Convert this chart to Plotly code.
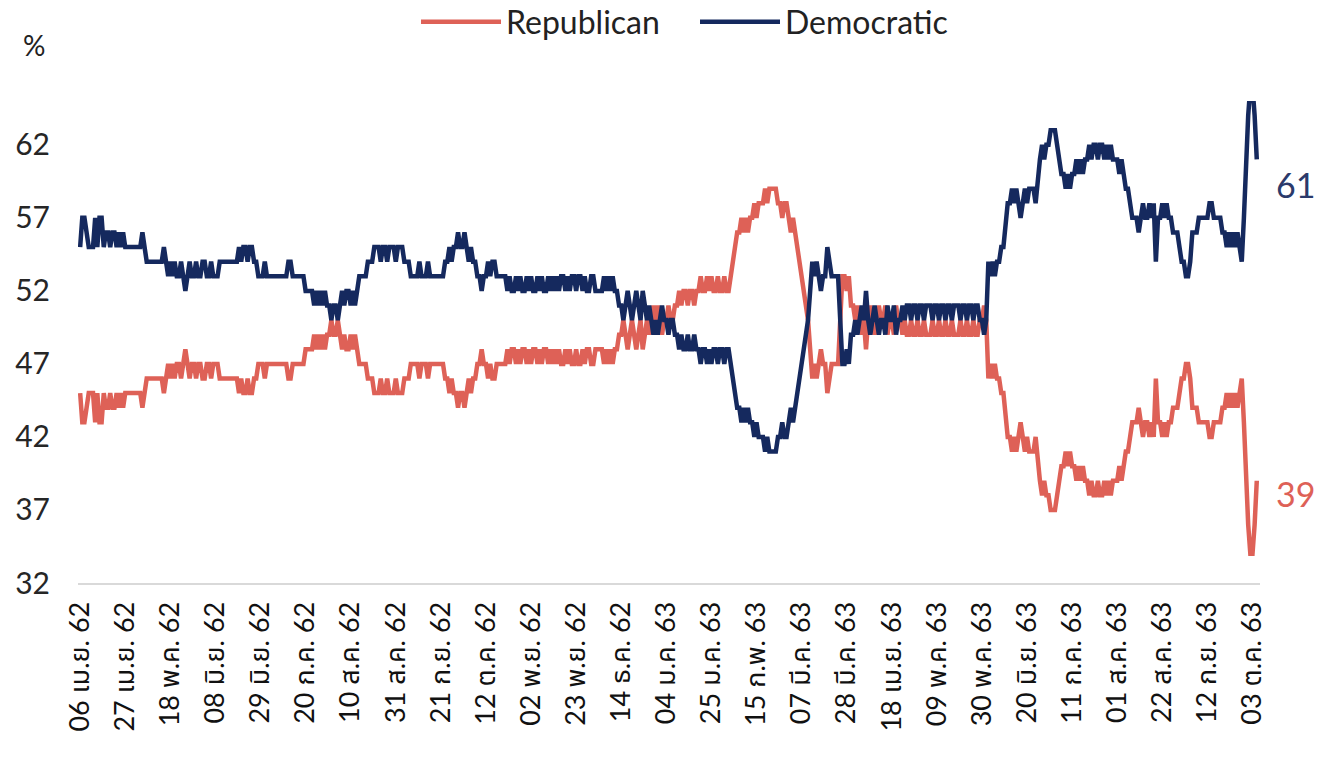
import pandas as pd
import plotly.graph_objects as go

start_date = "2019-04-06"

dem = [
    55,57,57,56,55,55,55,57,55,57,57,55,56,
    56,55,56,56,55,56,55,56,55,
    55,55,55,55,55,55,55,56,55,
    54,54,54,54,54,54,54,54,55,54,53,
    54,53,54,53,53,54,53,52,
    53,54,53,53,54,53,53,54,54,53,53,54,53,53,53,54,
    54,54,54,54,54,54,54,54,55,54,55,55,54,55,55,54,
    54,53,53,53,54,53,53,53,53,53,53,53,53,53,53,54,54,
    53,53,53,53,53,53,52,52,52,52,
    51,52,51,52,51,52,51,51,50,51,51,50,51,52,51,52,52,51,52,51,
    52,53,53,53,53,54,54,54,55,55,55,54,55,55,54,55,55,55,54,55,55,55,54,54,
    54,53,53,53,53,54,53,53,53,54,53,53,53,53,53,53,53,
    54,54,55,54,55,55,56,55,55,56,55,54,55,54,54,
    53,53,52,53,53,54,53,54,54,53,53,53,53,53,52,
    53,52,52,53,52,53,52,52,53,52,53,52,52,53,52,53,52,52,53,52,53,52,
    53,52,53,53,52,53,52,53,53,52,53,53,52,53,52,52,53,53,52,52,52,52,53,52,53,52,53,52,
    52,51,51,50,51,52,51,50,51,52,51,50,52,51,50,51,50,49,50,49,50,51,50,50,49,50,50,49,
    49,48,49,48,48,49,48,48,49,48,48,47,48,48,47,48,47,48,48,47,48,
    48,47,48,48,47,46,45,44,44,43,44,43,44,43,43,42,43,42,42,42,41,42,41,41,41,41,42,42,43,42,42,43,44,43,44,45,46,
    47,48,49,50,52,54,53,54,53,52,53,53,55,54,53,53,53,53,50,47,47,48,47,49,49,50,49,50,51,50,52,
    50,49,50,51,50,49,50,50,49,51,50,50,51,49,50,50,51,50,51,51,50,51,51,50,51,51,50,51,
    51,51,50,51,51,50,51,51,50,51,51,50,51,51,51,50,51,51,50,51,51,50,51,51,50,50,49,50,
    54,53,54,53,54,54,55,55,57,58,58,59,58,59,58,57,58,59,58,59,59,59,58,60,61,62,61,62,62,63,63,63,
    62,61,60,60,59,60,59,60,60,61,60,61,60,61,61,62,61,62,62,61,62,62,61,62,61,62,61,61,61,60,61,60,
    59,59,58,57,57,57,56,57,58,57,57,58,57,58,54,57,57,58,57,58,57,57,56,56,56,55,54,54,53,53,54,
    56,56,56,57,57,57,57,57,58,58,57,57,57,57,56,56,55,56,55,56,55,56,55,54,57,61,64,66,66,64,61,
]

rep = [
    45,43,43,44,45,45,45,43,45,43,43,45,44,
    44,45,44,44,45,44,45,44,45,
    45,45,45,45,45,45,45,44,45,
    46,46,46,46,46,46,46,46,45,46,47,
    46,47,46,47,47,46,47,48,
    47,46,47,47,46,47,47,46,46,47,47,46,47,47,47,46,
    46,46,46,46,46,46,46,46,45,46,45,45,46,45,45,46,
    46,47,47,47,46,47,47,47,47,47,47,47,47,47,47,46,46,
    47,47,47,47,47,47,48,48,48,48,
    49,48,49,48,49,48,49,49,50,49,49,50,49,48,49,48,48,49,48,49,
    48,47,47,47,47,46,46,46,45,45,45,46,45,45,46,45,45,45,46,45,45,45,46,46,
    46,47,47,47,47,46,47,47,47,46,47,47,47,47,47,47,47,
    46,46,45,46,45,45,44,45,45,44,45,46,45,46,46,
    47,47,48,47,47,46,47,46,46,47,47,47,47,47,48,
    47,48,48,47,48,47,48,48,47,48,47,48,48,47,48,47,48,48,47,48,47,48,
    47,48,47,47,48,47,48,47,47,48,47,47,48,47,48,48,47,47,48,48,48,48,47,48,47,48,47,48,
    48,49,49,50,49,48,49,50,49,48,49,50,48,49,50,49,50,51,50,51,50,49,50,50,51,50,50,51,
    51,52,51,52,52,51,52,52,51,52,52,53,52,52,53,52,53,52,52,53,52,
    52,53,52,52,53,54,55,56,56,57,56,57,56,57,57,58,57,58,58,58,59,58,59,59,59,59,58,58,57,58,58,57,56,57,56,55,54,
    53,52,51,50,48,46,47,46,47,48,47,47,45,46,47,47,47,47,50,53,53,52,53,51,51,50,51,50,49,50,48,
    50,51,50,49,50,51,50,50,51,49,50,50,49,51,50,50,49,50,49,49,50,49,49,50,49,49,50,49,
    49,49,50,49,49,50,49,49,50,49,49,50,49,49,49,50,49,49,50,49,49,50,49,49,50,50,51,50,
    46,47,46,47,46,46,45,45,43,42,42,41,42,41,42,43,42,41,42,41,41,41,42,40,39,38,39,38,38,37,37,37,
    38,39,40,40,41,40,41,40,40,39,40,39,40,39,39,38,39,38,38,39,38,38,39,38,39,38,39,39,39,40,39,40,
    41,41,42,43,43,43,44,43,42,43,43,42,43,42,46,43,43,42,43,42,43,43,44,44,44,45,46,46,47,47,46,
    44,44,44,43,43,43,43,43,42,42,43,43,43,43,44,44,45,44,45,44,45,44,45,46,43,39,36,34,34,36,39,
]

tick_labels = [
    "06 เม.ย. 62", "27 เม.ย. 62", "18 พ.ค. 62", "08 มิ.ย. 62", "29 มิ.ย. 62",
    "20 ก.ค. 62", "10 ส.ค. 62", "31 ส.ค. 62", "21 ก.ย. 62", "12 ต.ค. 62",
    "02 พ.ย. 62", "23 พ.ย. 62", "14 ธ.ค. 62", "04 ม.ค. 63", "25 ม.ค. 63",
    "15 ก.พ. 63", "07 มี.ค. 63", "28 มี.ค. 63", "18 เม.ย. 63", "09 พ.ค. 63",
    "30 พ.ค. 63", "20 มิ.ย. 63", "11 ก.ค. 63", "01 ส.ค. 63", "22 ส.ค. 63",
    "12 ก.ย. 63", "03 ต.ค. 63",
]
y_ticks = [32, 37, 42, 47, 52, 57, 62]

RED = "#DE6157"
NAVY = "#15295E"
FONT = "Lato, Tahoma, 'Noto Sans Thai', 'DejaVu Sans', sans-serif"

dates = pd.date_range(start_date, periods=len(dem), freq="D")
tick_vals = list(dates[::21][:len(tick_labels)])

fig = go.Figure()
fig.add_trace(go.Scatter(x=dates, y=rep, mode="lines", name="Republican",
                         line=dict(color=RED, width=4.5)))
fig.add_trace(go.Scatter(x=dates, y=dem, mode="lines", name="Democratic",
                         line=dict(color=NAVY, width=4.5)))

fig.add_annotation(xref="paper", yref="y", x=1.0, y=dem[-1] - 1.7, xanchor="left",
                   yanchor="middle", xshift=14, text=str(dem[-1]), showarrow=False,
                   font=dict(size=34, color="#2B3A6B", family=FONT))
fig.add_annotation(xref="paper", yref="y", x=1.0, y=rep[-1] - 0.9, xanchor="left",
                   yanchor="middle", xshift=14, text=str(rep[-1]), showarrow=False,
                   font=dict(size=34, color=RED, family=FONT))
fig.add_annotation(xref="paper", yref="paper", x=-0.0372, y=1.116, text="%",
                   xanchor="center", yanchor="middle",
                   showarrow=False, font=dict(size=28, color="#222222", family=FONT))

fig.update_layout(
    template="none",
    width=1324, height=774,
    margin=dict(l=78, r=64, t=101, b=191),
    paper_bgcolor="white", plot_bgcolor="white",
    font=dict(family=FONT, color="#222222", size=25),
    showlegend=True,
    legend=dict(orientation="h", xref="container", yref="container",
                x=0.3142, xanchor="left", y=0.9716, yanchor="middle",
                font=dict(size=32, color="#222222"), itemwidth=80,
                entrywidth=184, traceorder="normal", bgcolor="rgba(0,0,0,0)"),
    xaxis=dict(
        type="date",
        range=[dates[0] - pd.Timedelta(days=1), dates[-1] + pd.Timedelta(hours=36)],
        tickmode="array", tickvals=tick_vals, ticktext=tick_labels,
        tickangle=-90, showgrid=False, zeroline=False,
        showline=True, linecolor="#D9D9D9", linewidth=2,
        ticks="", tickfont=dict(size=27, color="#111111"), ticklabelstandoff=6,
        automargin=False,
    ),
    yaxis=dict(
        range=[32, 65], tickmode="array", tickvals=y_ticks,
        showgrid=False, zeroline=False, showline=False, ticks="",
        tickfont=dict(size=30, color="#262626"), ticklabelstandoff=27,
        automargin=False,
    ),
)

fig.write_html("out.html", config={"displayModeBar": False},
               post_script="document.body.style.margin='0';")
